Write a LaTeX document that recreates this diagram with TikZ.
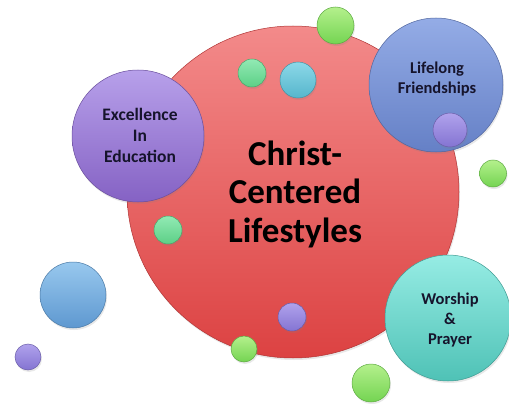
\documentclass[tikz,border=0pt]{standalone}
\usepackage{fontspec}
\setmainfont{Carlito}
\usetikzlibrary{shadows}
\definecolor{redtop}{HTML}{F38A8A}
\definecolor{redbot}{HTML}{DC4242}
\definecolor{purtop}{HTML}{B7A0EA}
\definecolor{purbot}{HTML}{8562C4}
\definecolor{blutop}{HTML}{94ACE6}
\definecolor{blubot}{HTML}{6580C6}
\definecolor{teatop}{HTML}{96ECE4}
\definecolor{teabot}{HTML}{4FC2B6}
\definecolor{grntop}{HTML}{B4F08C}
\definecolor{grnbot}{HTML}{74D452}
\definecolor{mintop}{HTML}{92EAB4}
\definecolor{minbot}{HTML}{5CCF86}
\definecolor{cyatop}{HTML}{8CD8E8}
\definecolor{cyabot}{HTML}{56B6CC}
\definecolor{skytop}{HTML}{98C8EE}
\definecolor{skybot}{HTML}{5E98D0}
\definecolor{lavtop}{HTML}{B0A2EC}
\definecolor{lavbot}{HTML}{8474D2}
\definecolor{ink}{HTML}{16142C}

\begin{document}
\begin{tikzpicture}[x=1pt,y=-1pt]
\tikzset{
  ball/.style 2 args={circle, inner sep=0pt, top color=#1, bottom color=#2,
    draw=#2!80!black, line width=0.5pt,
    drop shadow={shadow xshift=1pt, shadow yshift=-2pt, opacity=0.18}},
  redball/.style={ball={redtop}{redbot}},
  purball/.style={ball={purtop}{purbot}},
  bluball/.style={ball={blutop}{blubot}},
  teaball/.style={ball={teatop}{teabot}},
  grnball/.style={ball={grntop}{grnbot}},
  minball/.style={ball={mintop}{minbot}},
  cyaball/.style={ball={cyatop}{cyabot}},
  skyball/.style={ball={skytop}{skybot}},
  lavball/.style={ball={lavtop}{lavbot}},
  bigtext/.style={align=center, text=black, font=\bfseries\fontsize{35}{38.5}\selectfont},
  smalltext/.style={align=center, text=ink, font=\bfseries\fontsize{16.5}{20}\selectfont}
}
\useasboundingbox (0,0) rectangle (509,404);

\node[redball, minimum size=332] (core) at (293,192) {};
\node[bigtext] (coretext) at (295,194) {Christ-\\Centered\\Lifestyles};

\node[grnball, minimum size=37] (topdot) at (335.5,25.5) {};
\node[minball, minimum size=28] (mintdot) at (252,73) {};
\node[cyaball, minimum size=36] (cyandot) at (298,80) {};
\node[minball, minimum size=28] (leftdot) at (168,230) {};
\node[lavball, minimum size=28] (middot) at (292,317) {};

\node[purball, minimum size=132] (edu) at (138,136) {};
\node[smalltext, font=\bfseries\fontsize{17.5}{21}\selectfont] (edutext) at (140,135) {Excellence\\In\\Education};

\node[bluball, minimum size=134] (friend) at (436,85) {};
\node[smalltext] (friendtext) at (437,79) {Lifelong\\Friendships};
\node[lavball, minimum size=34] (frienddot) at (450,130) {};

\node[teaball, minimum size=126] (worship) at (448,318) {};
\node[smalltext] (worshiptext) at (450,320) {Worship\\\&\\Prayer};

\node[grnball, minimum size=27] (rightdot) at (493,173.5) {};
\node[skyball, minimum size=66] (skydot) at (73,295) {};
\node[lavball, minimum size=26] (cornerdot) at (28,357) {};
\node[grnball, minimum size=26] (lowdot) at (244,349) {};
\node[grnball, minimum size=38] (floordot) at (371,383) {};
\end{tikzpicture}
\end{document}
